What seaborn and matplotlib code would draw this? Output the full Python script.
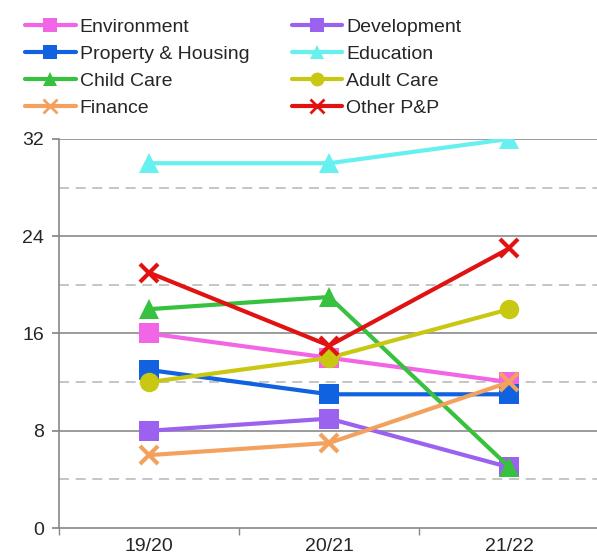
import pandas as pd
import matplotlib
matplotlib.use('Agg')
import matplotlib.pyplot as plt
import seaborn as sns
from matplotlib.lines import Line2D

# 1. Data
years = ['19/20', '20/21', '21/22']
environment = [16, 14, 12]
development = [8, 9, 5]
property_housing = [13, 11, 11]
education = [30, 30, 32]
child_care = [18, 19, 5]
adult_care = [12, 14, 18]
finance = [6, 7, 12]
other_pp = [21, 15, 23]

series = {
    'Environment': environment,
    'Development': development,
    'Property & Housing': property_housing,
    'Education': education,
    'Child Care': child_care,
    'Adult Care': adult_care,
    'Finance': finance,
    'Other P&P': other_pp,
}
df = pd.DataFrame([{'Year': y, 'Service': s, 'Value': v}
                   for s, vals in series.items() for y, v in zip(years, vals)])

palette = {'Environment': '#f266e6', 'Development': '#9a62ee', 'Property & Housing': '#1062e0',
           'Education': '#66f0f0', 'Child Care': '#36c23e', 'Adult Care': '#c8c812',
           'Finance': '#f2a25e', 'Other P&P': '#e01212'}
markers = {'Environment': 's', 'Development': 's', 'Property & Housing': 's',
           'Education': '^', 'Child Care': '^', 'Adult Care': 'o',
           'Finance': 'x', 'Other P&P': 'x'}

# 2. Setup
sns.set_theme(style="white")
plt.rcParams['font.family'] = ['Liberation Sans', 'DejaVu Sans']
fig = plt.figure(figsize=(5.97, 5.6), dpi=100)
ax = fig.add_axes([0.099, 0.057, 0.905, 0.695])

# 3. Lines, one per service
for name in series:
    m = markers[name]
    sns.lineplot(data=df[df['Service'] == name], x='Year', y='Value',
                 color=palette[name], marker=m, linewidth=3,
                 markersize=14 if m != 'x' else 13,
                 markeredgewidth=3 if m == 'x' else 0,
                 markeredgecolor=palette[name], ax=ax, legend=False)

ax.set_xlim(-0.5, 2.5)
ax.set_ylim(0, 32)
ax.set_yticks([0, 8, 16, 24, 32])
ax.set_xticks([0, 1, 2])
ax.set_xticklabels(years)
ax.set_xticks([-0.5, 0.5, 1.5, 2.5], minor=True)
ax.set_xlabel('')
ax.set_ylabel('')
ax.tick_params(axis='x', which='major', length=0, labelsize=14, pad=7)
ax.tick_params(axis='x', which='minor', length=5, color='#888888', direction='out', bottom=True)
ax.tick_params(axis='y', length=5, color='#888888', labelsize=14, left=True, direction='out', pad=6)

for y in [8, 16, 24, 32]:
    ax.axhline(y, color='#8a8a8a', lw=1.2, zorder=0)
for y in [4, 12, 20, 28]:
    ax.axhline(y, color='#bbbbbb', lw=1.2, ls=(0, (6, 4)), zorder=0)

for s in ['top', 'right']:
    ax.spines[s].set_visible(False)
for s in ['left', 'bottom']:
    ax.spines[s].set_color('#888888')
    ax.spines[s].set_linewidth(1.2)

# 4. Legend (two columns, row-wise order)
order = ['Environment', 'Property & Housing', 'Child Care', 'Finance',
         'Development', 'Education', 'Adult Care', 'Other P&P']
handles = [Line2D([], [], color=palette[n], marker=markers[n], lw=3, markersize=10,
                  markeredgewidth=2 if markers[n] == 'x' else 0) for n in order]
fig.legend(handles, order, ncol=2, loc='upper left', bbox_to_anchor=(0.042, 0.967),
           frameon=False, fontsize=14, handlelength=2.6, handletextpad=0.2,
           labelspacing=0.48, columnspacing=2.2, borderaxespad=0, borderpad=0)

# 5. Save
plt.savefig('out.png', dpi=100)
